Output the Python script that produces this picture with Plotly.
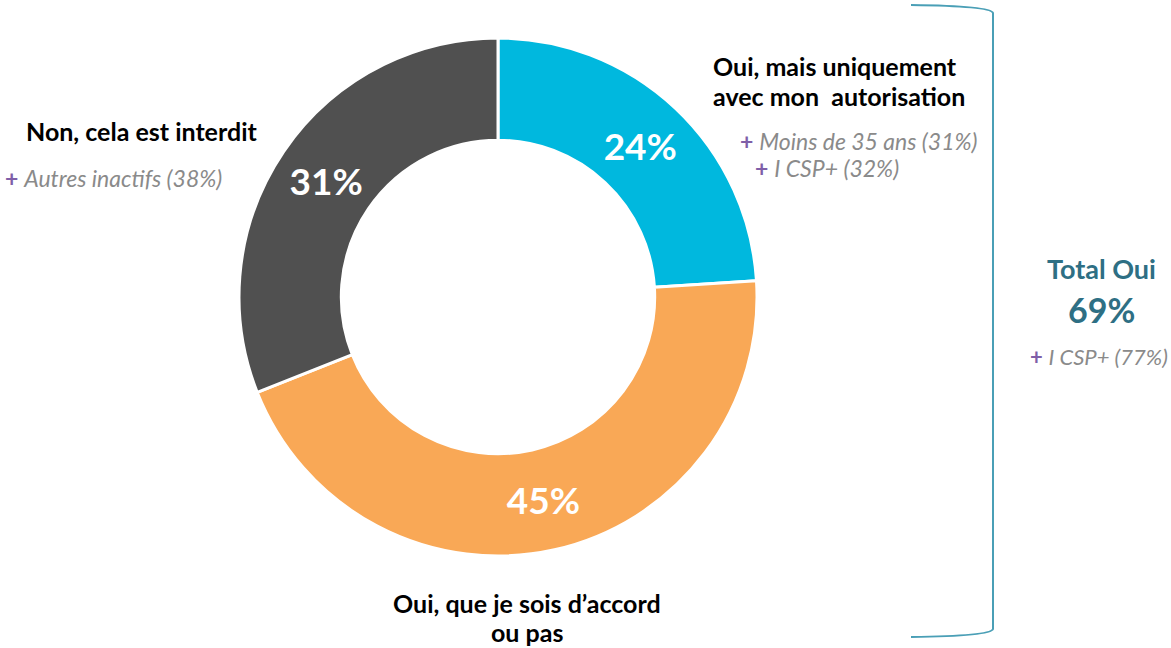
import plotly.graph_objects as go

# Data
labels = ['Oui, mais uniquement avec mon autorisation', 'Oui, que je sois d\u2019accord ou pas', 'Non, cela est interdit']
values = [24, 45, 31]
colors = ['#00B8DE', '#F9A856', '#505050']

W, H = 1171, 648
FONT = 'Lato, Carlito, Calibri, sans-serif'
PURPLE = '#7F5FA8'
GREY = '#8A8A8A'
TEAL = '#2E6F84'

# donut centre / radius in pixels
cx, cy, r = 498, 297, 259


def px(x):
    return x / W


def py(y):
    return 1 - y / H


fig = go.Figure(go.Pie(
    labels=labels,
    values=values,
    sort=False,
    direction='clockwise',
    rotation=0,
    hole=0.605,
    marker=dict(colors=colors, line=dict(color='white', width=3)),
    texttemplate='<b>%{value}%</b>',
    textposition='inside',
    insidetextorientation='horizontal',
    textfont=dict(color='white', size=37, family=FONT),
    domain=dict(x=[px(cx - r), px(cx + r)], y=[py(cy + r), py(cy - r)]),
    showlegend=False,
    hoverinfo='label+value',
))


def note(x, y, text, size, color='black', xanchor='left', bold=False):
    if bold:
        text = f'<b>{text}</b>'
    fig.add_annotation(x=px(x), y=py(y), xref='paper', yref='paper', text=text,
                       showarrow=False, xanchor=xanchor, yanchor='middle',
                       align='left' if xanchor == 'left' else 'center',
                       font=dict(family=FONT, size=size, color=color))


def plus(x, y, text, size=23):
    fig.add_annotation(x=px(x), y=py(y), xref='paper', yref='paper',
                       text=f'<span style="color:{PURPLE}"><b>+</b></span> <i>{text}</i>',
                       showarrow=False, xanchor='left', yanchor='middle',
                       font=dict(family=FONT, size=size, color=GREY))


note(711, 66, 'Oui, mais uniquement', 25, bold=True)
note(711, 96, 'avec mon  autorisation', 25, bold=True)
plus(738, 141, 'Moins de 35 ans (31%)')
plus(753, 168, 'I CSP+ (32%)')

note(24, 131, 'Non, cela est interdit', 25, bold=True)
plus(3, 178, 'Autres inactifs (38%)')

note(527, 603, 'Oui, que je sois d\u2019accord', 25, xanchor='center', bold=True)
note(527, 632, 'ou pas', 25, xanchor='center', bold=True)

note(1101, 268, 'Total Oui', 27, color=TEAL, xanchor='center', bold=True)
note(1101, 309, '69%', 34, color=TEAL, xanchor='center', bold=True)
plus(1028, 356, 'I CSP+ (77%)', size=22)

# right-hand bracket
x0, x1, y0, y1 = 911, 993, 5, 637
path = (f'M {px(x0)} {py(y0)} Q {px(x1 - 2)} {py(y0 + 1)} {px(x1)} {py(y0 + 8)} '
        f'L {px(x1)} {py(y1 - 8)} Q {px(x1 - 2)} {py(y1 - 1)} {px(x0)} {py(y1)}')
fig.add_shape(type='path', path=path, xref='paper', yref='paper',
              line=dict(color='#4A9FB6', width=2))

fig.update_layout(
    width=W, height=H,
    margin=dict(l=0, r=0, t=0, b=0),
    paper_bgcolor='white',
    plot_bgcolor='white',
    font=dict(family=FONT),
)

# drop the default 8px page margin so the figure sits at the window corner
fig.write_html('out.html', config={'displayModeBar': False},
               post_script="document.body.style.margin='0';")
